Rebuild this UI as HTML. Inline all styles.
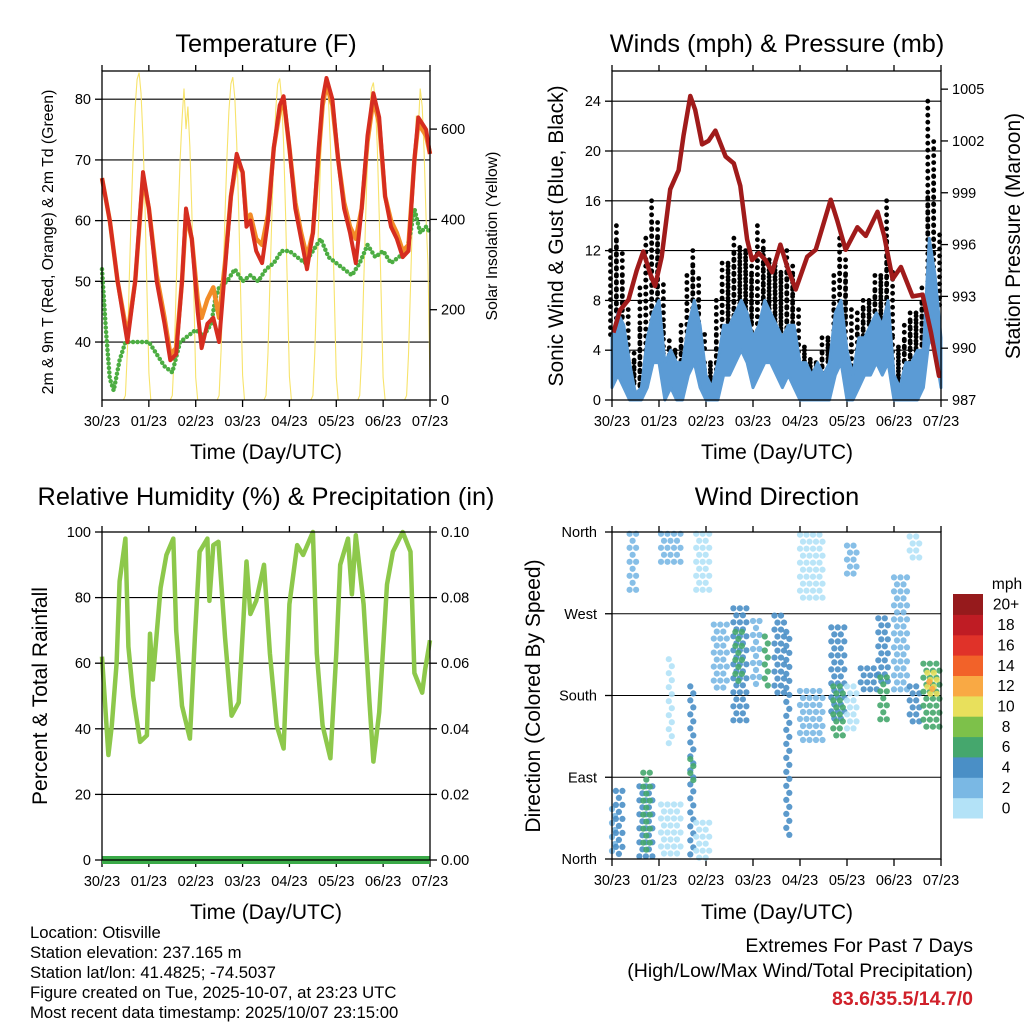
<!DOCTYPE html>
<html><head><meta charset="utf-8"><style>
html,body{margin:0;padding:0;background:#fff;}
svg{display:block;font-family:"Liberation Sans",Arial,sans-serif;}
</style></head><body>
<svg id="chart" width="1024" height="1024" viewBox="0 0 1024 1024" xmlns="http://www.w3.org/2000/svg">
<rect x="0" y="0" width="1024" height="1024" fill="#fff"/>
<g font-size="25.3" text-anchor="middle" fill="#000">
<text x="266" y="52">Temperature (F)</text>
<text x="777" y="52">Winds (mph) &amp; Pressure (mb)</text>
<text x="266" y="505">Relative Humidity (%) &amp; Precipitation (in)</text>
<text x="777" y="505">Wind Direction</text>
</g>
<g font-size="21" text-anchor="middle">
<text x="266" y="459">Time (Day/UTC)</text>
<text x="777" y="459">Time (Day/UTC)</text>
<text x="266" y="919">Time (Day/UTC)</text>
<text x="777" y="919">Time (Day/UTC)</text>
<text transform="translate(53,242) rotate(-90)" font-size="15.8">2m &amp; 9m T (Red, Orange) &amp; 2m Td (Green)</text>
<text transform="translate(497,236) rotate(-90)" font-size="15.8">Solar Insolation (Yellow)</text>
<text transform="translate(563,236) rotate(-90)">Sonic Wind &amp; Gust (Blue, Black)</text>
<text transform="translate(1020,236) rotate(-90)">Station Pressure (Maroon)</text>
<text transform="translate(47,696) rotate(-90)">Percent &amp; Total Rainfall</text>
<text transform="translate(540,696) rotate(-90)">Direction (Colored By Speed)</text>
</g>
<g font-size="16.7">
<text x="30" y="938">Location: Otisville</text>
<text x="30" y="958">Station elevation: 237.165 m</text>
<text x="30" y="978">Station lat/lon: 41.4825; -74.5037</text>
<text x="30" y="998">Figure created on Tue, 2025-10-07, at 23:23 UTC</text>
<text x="30" y="1018">Most recent data timestamp: 2025/10/07 23:15:00</text>
</g>
<g font-size="19.5" text-anchor="end">
<text x="973" y="952">Extremes For Past 7 Days</text>
<text x="973" y="977">(High/Low/Max Wind/Total Precipitation)</text>
<text x="973" y="1005" font-weight="bold" fill="#d0202a">83.6/35.5/14.7/0</text>
</g>
</svg>
<script>
const xTickLabels=['30/23','01/23','02/23','03/23','04/23','05/23','06/23','07/23'];
const tempTicks=[40,50,60,70,80];
const solarTicks=[0,200,400,600];
const windTicks=[0,4,8,12,16,20,24];
const presTicks=[987,990,993,996,999,1002,1005];
const rhTicks=[0,20,40,60,80,100];
const precipTicks=['0.00','0.02','0.04','0.06','0.08','0.10'];
const dirTicks=['North','East','South','West','North'];
const speedLabels=['0','2','4','6','8','10','12','14','16','18','20+'];

const tempT=[0,4,8,13,17,21,24,28,32,35,38,41,43,46,49,51,54,57,60,63,66,69,72,74,76,79,82,85,88,91,93,96,99,102,105,108,111,113,115,118,121,124,127,130,133,136,139,142,145,148,151,154,157,160,162,164,166,168];
const tempRed=[67,60,50,40,50,68,62,50,43,37,38,50,62,57,45,39,43,44,40,52,64,71,68,59,60,55,53,60,72,79,80.5,72,62,57,52,58,72,80,83.5,80,70,62,58,53,62,74,81,77,64,59,57,54,55,70,77,76,75,71];
const tempOrange=[67,60,50,41,50,67,62,51,44,38,39,50,61,57,47,44,47,49,44,53,64,70,68,60,61,57,56,61,72,78,80,72,63,58,54,58,71,79,82.5,79,70,63,59,57,62,73,80,76,64,60,58,55,56,70,76,75,74,71];
const dewT=[0,2,4,6,9,12,18,24,28,32,36,40,44,48,52,56,58,60,64,68,72,76,80,84,88,92,96,100,104,108,112,116,120,124,128,132,136,140,144,148,152,156,158,160,163,166,168];
const dewV=[52,42,34,32,37,40,40,40,38,36,35,40,41,42,41,43,47,49,50,52,50,51,50,52,53,55,55,54,53,55,57,54,53,52,51,53,56,54,55,53,54,55,58,62,58,59,58];
const solarV=[0,0,0,0,0,0,0,0,0,0,0,0,
10,110,270,420,550,650,710,725,680,580,430,250,60,
0,0,0,0,0,0,0,0,0,0,0,
10,100,250,400,530,620,690,600,650,560,420,240,50,
0,0,0,0,0,0,0,0,0,0,0,
10,110,260,410,540,640,700,715,670,570,420,240,55,
0,0,0,0,0,0,0,0,0,0,0,
10,105,260,410,545,645,700,712,668,568,418,238,52,
0,0,0,0,0,0,0,0,0,0,0,
10,105,255,405,540,640,695,708,665,565,415,235,50,
0,0,0,0,0,0,0,0,0,0,0,
10,100,250,400,535,635,690,703,660,560,410,230,50,
0,0,0,0,0,0,0,0,0,0,0,
10,100,250,400,530,630,600,690,650,550,400,300,40];

const windHi=[5,7,6,3,0.5,1,5,7,8,3,4,3,3,6,8,6,2,1,3,6,6,7,8,7,5,6,8,7,6,5,6,6,3,3,2,3,2,3,7,8,4,2,5,5,6,7,6,8,2,1,3,3,4,4,13,10,5];
const windLo=[1,2,1,0,0,0,1,3,3,0,1,0,0,2,3,1,0,0,0,2,2,3,4,3,1,2,3,3,2,1,2,1,0,0,0,0,0,0,2,3,0,0,1,2,2,3,2,3,0,0,0,0,0,1,5,4,1];
const gustV=[12,14,10,5,3,9,13,16,13,6,4,4,6,10,12,8,3,3,8,11,11,13,12,12,10,14,12,11,11,10,12,10,5,4,3,3,5,5,10,13,10,5,7,8,8,10,10,16,5,4,6,7,7,9,24,18,9];
const presT=[0.7,4.1,8.4,12.6,16,19.5,22,25.4,29.7,34,36.5,40,42.5,46,49.3,52.8,58,62.2,65.5,69,71.5,75,78.4,81.8,86,89.5,93.8,99.7,104,108,111.7,115,119.3,125.3,129.6,135.6,139,143.3,147.5,153.5,158.6,162.9,167,168];
const presV=[990.9,992.2,992.8,994.5,995.6,994.3,993.6,995.3,999.2,1000.3,1002.3,1004.6,1003.8,1001.8,1002,1002.6,1001.1,1000.7,999.4,996.3,995.1,995.5,995.1,994.4,996,994.7,993.4,995.3,995.7,997.2,998.6,997.4,995.7,997,996.5,997.9,996.5,994,994.7,993,993.1,990.9,988.4,988.4];

const rhT=[0,3.3,5,7.5,9,12,13.5,16,19.5,23,24.6,26,30,33,36.5,38,41,45,47.6,50,54,55,57,59.6,63,66.4,70,72.4,74,76,79,83,86,89.5,93,96,100,103,108,110,113,117,120,122,126,128,130,134,137,139,142,146,149,154,158,160,164,165.5,168];
const rhV=[62,32,41,60,85,98,65,50,36,38,69,55,83,93,98,70,47,37,68,94,98,79,96,97,68,44,48,73,91,75,79,90,63,41,34,78,96,93,100,63,41,31,63,90,98,81,99,78,48,30,45,84,94,100,94,57,51,58,67];
const precipT=[0,168];
const precipV=[0,0];

const streakStart=[0,2,9,14,16,25,25,29,40,40,43,43,52,62,63,72,78,83,89,96,96,112,113,120,120,127,136,137,144,152,152,159,161,162];
const streakEnd=[2,6,13,22,20,36,36,31,43,42,50,50,59,69,67,76,81,88,91,108,108,119,118,125,125,136,141,141,151,158,158,168,166,164];
const streakDirLo=[5,2,295,0,10,320,2,120,0,80,290,0,185,150,190,185,185,180,20,287,126,150,130,310,140,185,195,150,180,330,145,145,175,180];
const streakDirHi=[55,75,358,80,95,358,60,220,190,110,358,40,258,276,250,262,245,268,250,357,185,255,190,345,190,210,265,200,310,355,190,215,205,195];
const streakSpeed=[3,4,2,4,6,2,0.5,0.5,4,6,1,1,3,4,6,2,7.5,4,4,1,2,4,6,2,1,4,4,7,2.5,1,4,6,10,13];

const NS='http://www.w3.org/2000/svg';
const svg=document.getElementById('chart');
function el(tag,attrs,parent){const e=document.createElementNS(NS,tag);for(const k in attrs)e.setAttribute(k,attrs[k]);(parent||svg).appendChild(e);return e;}
function txt(x,y,s,anchor,size,parent){const e=el('text',{x:x,y:y,'text-anchor':anchor,'font-size':size},parent);e.textContent=s;return e;}

const P1={x0:102,x1:430,y0:71,y1:400};
const P2={x0:612,x1:941,y0:71,y1:400};
const P3={x0:102,x1:430,y0:532,y1:860};
const P4={x0:612,x1:941,y0:532,y1:859};
const xs=(P,t)=>P.x0+t*(P.x1-P.x0)/168;
const yTemp=v=>400-(v-30.45)*6.07;
const ySolar=v=>400-v*0.4515;
const yWind=v=>400-v*12.45;
const yPres=v=>400-(v-987)*17.27;
const yRH=v=>860-v*3.28;
const yPrecip=v=>860-v*3280;
const yDir=d=>859-d*327/360;

function frame(P,name,gridVals,yfn){
  const g=el('g',{});
  
  
  gridVals.forEach(v=>{
    const l=el('line',{x1:P.x0,x2:P.x1,y1:yfn(v),y2:yfn(v),stroke:'#000','stroke-width':1.1},g);
    
    
  });
  xTickLabels.forEach((s,i)=>{
    const x=xs(P,i*24);
    const tb=el('line',{x1:x,x2:x,y1:P.y1,y2:P.y1+7,stroke:'#000','stroke-width':1.3},g);
    
    
    const tt=el('line',{x1:x,x2:x,y1:P.y0,y2:P.y0-6,stroke:'#000','stroke-width':1.3},g);
    
    
    const lb=txt(x,P.y1+26,s,'middle',14.5,g);
    
    
  });
  return g;
}
function border(P,name){
  const r=el('rect',{x:P.x0,y:P.y0,width:P.x1-P.x0,height:P.y1-P.y0,fill:'none',stroke:'#000','stroke-width':1.3});
  
  
}
function yTicks(P,vals,labels,yfn,side,name){
  vals.forEach((v,i)=>{
    const y=yfn(v);
    const x=side==='left'?P.x0:P.x1;
    const d=side==='left'?-7:7;
    const t=el('line',{x1:x,x2:x+d,y1:y,y2:y,stroke:'#000','stroke-width':1.3});
    
    
    const lb=txt(side==='left'?x-11:x+11,y+5,labels[i],side==='left'?'end':'start',14.5);
    
    
  });
}
function pts(P,T,V,yfn){return T.map((t,i)=>xs(P,t).toFixed(1)+','+yfn(V[i]).toFixed(1)).join(' ');}

// ---------- Panel 1 ----------
frame(P1,'temp',tempTicks,yTemp);
const solarT=solarV.map((_,i)=>i);
const sol=el('polyline',{points:pts(P1,solarT,solarV,ySolar),fill:'none',stroke:'#f7e36b','stroke-width':1.1});


const dew=el('polyline',{points:pts(P1,dewT,dewV,yTemp),fill:'none',stroke:'#4cad42','stroke-width':4.5,'stroke-linecap':'round','stroke-dasharray':'0 4.5'});


const t9=el('polyline',{points:pts(P1,tempT,tempOrange,yTemp),fill:'none',stroke:'#f28c28','stroke-width':4.5,'stroke-linejoin':'round'});


const t2=el('polyline',{points:pts(P1,tempT,tempRed,yTemp),fill:'none',stroke:'#d62d20','stroke-width':4,'stroke-linejoin':'round'});


border(P1,'temp');
yTicks(P1,tempTicks,tempTicks.map(String),yTemp,'left','temp-y');
yTicks(P1,solarTicks,solarTicks.map(String),ySolar,'right','solar-y');

// ---------- Panel 2 ----------
frame(P2,'wind',windTicks.slice(1),yWind);
const windT=windHi.map((_,i)=>i*3);
const gustG=el('g',{fill:'#000'});


for(let i=0;i<windT.length-1;i++){
  const xa=xs(P2,windT[i]),xb=xs(P2,windT[i+1]);
  const n=Math.max(2,Math.round((xb-xa)/3));
  for(let k=0;k<n;k++){
    const f=k/n;
    const x=xa+(xb-xa)*f;
    const top=yWind(gustV[i]+(gustV[i+1]-gustV[i])*f);
    const bot=yWind(windHi[i]+(windHi[i+1]-windHi[i])*f);
    for(let y=top+(k%2)*3;y<=bot+3;y+=7){
      const c=el('circle',{cx:(x+((k%2)?1.5:-1.5)).toFixed(1),cy:y.toFixed(1),r:2.4},gustG);
      
      
    }
  }
}
const bandPts=windT.map((t,i)=>xs(P2,t).toFixed(1)+','+yWind(windHi[i]).toFixed(1)).concat(windT.slice().reverse().map((t,j)=>{const i=windT.length-1-j;return xs(P2,t).toFixed(1)+','+yWind(windLo[i]).toFixed(1);})).join(' ');
const band=el('polygon',{points:bandPts,fill:'#5b9bd5',stroke:'#5b9bd5','stroke-width':3,'stroke-linejoin':'round'});


const pres=el('polyline',{points:pts(P2,presT,presV,yPres),fill:'none',stroke:'#a01b1b','stroke-width':4.5,'stroke-linejoin':'round'});


border(P2,'wind');
yTicks(P2,windTicks,windTicks.map(String),yWind,'left','wind-y');
yTicks(P2,presTicks,presTicks.map(String),yPres,'right','pressure-y');

// ---------- Panel 3 ----------
frame(P3,'rh',rhTicks.slice(1,5),yRH);
const rh=el('polyline',{points:pts(P3,rhT,rhV,yRH),fill:'none',stroke:'#8dc84b','stroke-width':4.5,'stroke-linejoin':'round'});


const pr=el('polyline',{points:pts(P3,precipT,precipV,yPrecip),fill:'none',stroke:'#3aaa48','stroke-width':8});


border(P3,'rh');
yTicks(P3,rhTicks,rhTicks.map(String),yRH,'left','rh-y');
yTicks(P3,precipTicks.map(Number),precipTicks,yPrecip,'right','precip-y');

// ---------- Panel 4 ----------
const dirVals=[0,90,180,270,360];
frame(P4,'dir',[90,180,270],yDir);
const colors=['#b3e2f7','#7ab8e4','#4a8fc6','#45a76d','#7dc14a','#e8e05c','#f9a944','#f26229','#e03229','#bf1c24','#961a1c'];
const colorFor=s=>colors[Math.min(10,Math.floor(s/2))];
const dg=el('g',{'fill-opacity':0.9});


streakStart.forEach((t0,i)=>{
  const xa=xs(P4,t0),xb=xs(P4,streakEnd[i]);
  const ya=yDir(streakDirHi[i]),yb=yDir(streakDirLo[i]);
  let row=0;
  for(let y=ya;y<=yb;y+=7,row++){
    for(let x=xa+(row%2)*3;x<=xb;x+=6.5){
      const c=el('circle',{cx:x.toFixed(1),cy:y.toFixed(1),r:3.1,fill:colorFor(streakSpeed[i])},dg);
      
      
    }
  }
});
border(P4,'dir');
dirVals.forEach((d,i)=>{
  const y=yDir(d);
  const t=el('line',{x1:P4.x0,x2:P4.x0-7,y1:y,y2:y,stroke:'#000','stroke-width':1.3});
  
  
  const lb=txt(P4.x0-15,y+5,dirTicks[i],'end',14.5);
  
  
});
const cb=el('g',{});


const cbTop=594,cbH=224/11;
const unit=txt(1007,589,'mph','middle',15.5,cb);


speedLabels.forEach((s,i)=>{
  const y=cbTop+(10-i)*cbH;
  const r=el('rect',{x:953,y:y.toFixed(1),width:30,height:(cbH+0.5).toFixed(1),fill:colors[i]},cb);
  
  
  const lb=txt(1006,y+cbH/2+5.5,s,'middle',15.5,cb);
  
  
});
</script>
</body></html>
